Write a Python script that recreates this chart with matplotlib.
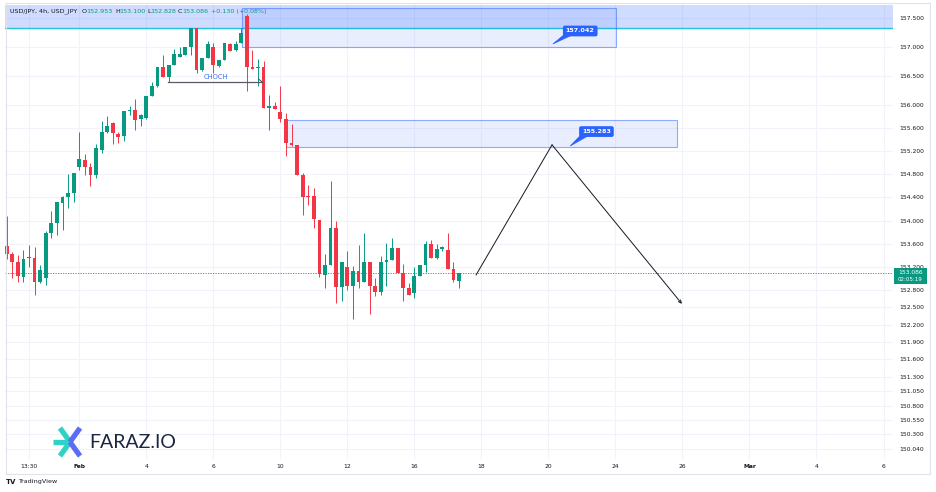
import numpy as np
import matplotlib.pyplot as plt
from matplotlib.patches import Rectangle, Polygon
from matplotlib import transforms
from matplotlib.lines import Line2D

# 4h candles, USD/JPY
opens = [153.56, 153.43, 153.29, 153.03, 153.35, 153.36, 152.93, 153.00, 153.78, 153.95,
         154.31, 154.40, 154.48, 154.93, 155.05, 154.92, 154.79, 155.22, 155.54, 155.69,
         155.50, 155.46, 155.90, 155.91, 155.75, 155.77, 156.16, 156.32, 156.66, 156.49,
         156.69, 156.83, 156.87, 157.00, 157.33, 156.61, 156.81, 157.01, 156.68, 156.78,
         157.06, 156.95, 157.07, 157.54, 156.65, 156.64, 156.66, 155.95, 155.98, 155.88,
         155.76, 155.34, 155.31, 154.79, 154.41, 154.43, 154.01, 153.06, 153.23, 153.87,
         152.85, 153.20, 152.87, 153.13, 152.93, 153.29, 152.87, 152.77, 153.29, 153.32,
         153.53, 153.09, 152.83, 152.75, 153.04, 153.23, 153.60, 153.35, 153.50, 153.49,
         153.17, 152.953]
highs = [154.08, 153.46, 153.40, 153.49, 153.57, 153.54, 153.24, 153.82, 154.17, 154.32,
         154.43, 154.81, 154.83, 155.53, 155.16, 155.00, 155.33, 155.73, 155.81, 155.70,
         155.54, 155.90, 155.98, 156.10, 155.84, 156.16, 156.39, 156.66, 156.87, 156.69,
         156.96, 157.01, 157.00, 157.34, 157.34, 156.81, 157.10, 157.08, 156.78, 157.07,
         157.08, 157.10, 157.34, 157.58, 156.95, 156.79, 156.76, 156.17, 156.05, 156.32,
         155.86, 155.67, 155.31, 154.83, 154.62, 154.56, 154.01, 153.43, 154.69, 154.00,
         153.29, 153.47, 153.21, 153.58, 153.79, 153.29, 153.01, 153.38, 153.62, 153.69,
         153.53, 153.25, 152.92, 153.19, 153.23, 153.65, 153.66, 153.60, 153.56, 153.79,
         153.29, 153.100]
lows = [153.33, 153.00, 152.93, 152.94, 153.20, 152.71, 152.92, 152.89, 153.69, 153.75,
        153.83, 154.21, 154.32, 154.87, 154.79, 154.59, 154.73, 155.17, 155.52, 155.33,
        155.34, 155.37, 155.83, 155.57, 155.64, 155.76, 156.15, 156.31, 156.49, 156.40,
        156.69, 156.83, 156.87, 156.87, 156.56, 156.58, 156.81, 156.55, 156.66, 156.78,
        156.93, 156.93, 157.07, 156.25, 156.62, 156.33, 155.95, 155.56, 155.93, 155.71,
        155.12, 155.29, 154.78, 154.09, 154.27, 153.87, 153.03, 152.83, 153.23, 152.58,
        152.60, 152.80, 152.29, 152.83, 152.93, 152.38, 152.70, 152.71, 152.87, 153.32,
        153.09, 152.61, 152.71, 152.66, 153.04, 153.11, 153.35, 153.33, 153.48, 153.17,
        152.93, 152.828]
closes = [153.42, 153.28, 153.04, 153.34, 153.37, 152.93, 153.14, 153.78, 153.95, 154.32,
          154.40, 154.47, 154.82, 155.07, 154.92, 154.79, 155.26, 155.54, 155.64, 155.51,
          155.45, 155.90, 155.92, 155.74, 155.83, 156.16, 156.32, 156.66, 156.49, 156.69,
          156.89, 156.88, 157.00, 157.34, 156.61, 156.81, 157.05, 156.69, 156.78, 157.07,
          156.93, 157.06, 157.25, 156.65, 156.62, 156.66, 155.95, 155.98, 155.93, 155.76,
          155.34, 155.30, 154.79, 154.40, 154.40, 154.02, 153.08, 153.23, 153.87, 152.85,
          153.29, 152.87, 153.13, 152.93, 153.29, 152.87, 152.76, 153.29, 153.32, 153.53,
          153.09, 152.83, 152.71, 153.04, 153.23, 153.60, 153.35, 153.50, 153.55, 153.17,
          152.97, 153.086]

date_pos = [4, 13, 25, 37, 49, 61, 73, 85, 97, 109, 121, 133, 145, 157]
date_labels = ['13:30', 'Feb', '4', '6', '10', '12', '16', '18', '20', '24', '26', 'Mar', '4', '6']
price_ticks = [157.5, 157.0, 156.5, 156.0, 155.6, 155.2, 154.8, 154.4, 154.0, 153.6, 153.2,
               152.8, 152.5, 152.2, 151.9, 151.6, 151.3, 151.05, 150.8, 150.55, 150.3, 150.04]

last_price = 153.086
band_low, band_high = 157.327, 157.725
zone1 = (42.1, 109.1, 157.01, 157.68)
zone2 = (50.1, 120.0, 155.27, 155.74)
choch_x = (28.9, 45.7)
choch_y = 156.40
path_x = [84.05, 97.65, 120.9]
path_y = [153.06, 155.31, 152.56]

W, H = 936, 492
GREEN = '#089981'
RED = '#f23645'
BLUE = '#2962ff'
DARK = '#131722'

fig = plt.figure(figsize=(W / 100, H / 100), dpi=100)
fig.patch.set_facecolor('white')
ax = fig.add_axes([5 / W, 1 - 459 / H, (893 - 5) / W, (459 - 4) / H])

def fx(x):
    return x / W

def fy(y):
    return 1 - y / H

# candles
for i in range(len(opens)):
    o, h, l, c = opens[i], highs[i], lows[i], closes[i]
    col = GREEN if c >= o else RED
    ax.vlines(i, l, h, color=col, lw=0.7, zorder=3)
    ax.bar(i, max(abs(c - o), 0.018), bottom=min(o, c), width=0.68, color=col,
           lw=0, zorder=4)

ax.set_xlim(-0.3, 158.7)
ax.set_ylim(149.875, 157.747)

# zones
ax.axhspan(band_low, band_high, color=BLUE, alpha=0.22, lw=0, zorder=1)
ax.axhline(band_low, color='#22c4d8', lw=1.0, zorder=2)
for x0, x1, y0, y1 in (zone1, zone2):
    ax.add_patch(Rectangle((x0, y0), x1 - x0, y1 - y0, fc=(0.16, 0.38, 1, 0.1),
                           ec=(0.16, 0.38, 1, 0.5), lw=0.8, zorder=2))

# callouts
def callout(xc, yc, txt, tail):
    ax.add_patch(Polygon(tail, closed=True, fc=BLUE, ec=BLUE, lw=0.5, zorder=6))
    ax.text(xc, yc, txt, ha='center', va='center', color='white', fontsize=4.6,
            fontweight='bold', zorder=7,
            bbox=dict(boxstyle='round,pad=0.45,rounding_size=0.3', fc=BLUE, ec='none'))

callout(102.7, 157.28, '157.042', [(99.6, 157.2), (101.0, 157.2), (97.8, 157.055)])
callout(105.6, 155.54, '155.283', [(102.6, 155.46), (104.0, 155.46), (100.9, 155.29)])

# CHOCH
ax.plot(choch_x, [choch_y, choch_y], color='#555a66', lw=0.9, zorder=5)
ax.plot([choch_x[1] - 0.6, choch_x[1]], [choch_y + 0.05, choch_y], color='#555a66', lw=0.8, zorder=5)
ax.text(37.4, 156.49, 'CHOCH', color='#3d6cf2', fontsize=4.9, ha='center', va='center', zorder=6)

# projected path
ax.plot(path_x[:2], path_y[:2], color=DARK, lw=0.7, zorder=5)
ax.annotate('', xy=(path_x[2], path_y[2]), xytext=(path_x[1], path_y[1]),
            arrowprops=dict(arrowstyle='->', color=DARK, lw=0.7,
                            mutation_scale=5, shrinkA=0, shrinkB=0), zorder=5)

# last price line
ax.axhline(last_price, color=GREEN, lw=0.6, ls=(0, (1.5, 1.5)), zorder=2)

# axes styling
for s in ax.spines.values():
    s.set_visible(False)
ax.set_axisbelow(True)
ax.grid(True, color='#f0f3fa', lw=0.8)
ax.yaxis.tick_right()
ax.set_yticks(price_ticks)
ax.set_yticklabels([f'{v:.3f}' for v in price_ticks])
ax.tick_params(axis='y', length=0, pad=4.5, labelsize=4.3, labelcolor=DARK)
ax.set_xticks(date_pos)
ax.set_xticklabels(date_labels)
ax.tick_params(axis='x', length=0, pad=3.8, labelsize=4.3, labelcolor=DARK)
for lab in ax.get_xticklabels():
    if lab.get_text() in ('Feb', 'Mar'):
        lab.set_fontweight('bold')

# price label on axis
bt = transforms.blended_transform_factory(fig.transFigure, ax.transData)
ax.add_patch(Rectangle((fx(894), 152.896), fx(927) - fx(894), 0.277, transform=bt,
                       fc=GREEN, ec='none', clip_on=False, zorder=8))
ax.text(fx(910.5), 153.10, '153.086', transform=bt, color='white', fontsize=4.3,
        ha='center', va='center', clip_on=False, zorder=9)
ax.text(fx(910.5), 152.98, '02:05:19', transform=bt, color='white', fontsize=4.0,
        ha='center', va='center', clip_on=False, zorder=9)

# header
hdr = [(10, 'USD/JPY, 4h, USD_JPY', DARK), (82, 'O', DARK), (86.5, '152.953', GREEN),
       (115, 'H', DARK), (119, '153.100', GREEN), (147, 'L', DARK), (150.5, '152.828', GREEN),
       (178, 'C', DARK), (182, '153.086', GREEN), (211, '+0.130 (+0.08%)', GREEN)]
for x, t, col in hdr:
    ax.text(fx(x), fy(11.5), t, transform=fig.transFigure, color=col, fontsize=4.6,
            ha='left', va='center', zorder=3.5, clip_on=False)

# FARAZ.IO logo
cx, cy = 70, 442
arms = [((60, 428), '#2ed3c6'), ((60, 456), '#2ed3c6'), ((53, 442), '#2ed3c6'),
        ((80, 428), '#5b6cf5'), ((80, 456), '#5b6cf5')]
for (ex, ey), col in arms:
    fig.add_artist(Line2D([fx(cx), fx(ex)], [fy(cy), fy(ey)], color=col, lw=3.8,
                          solid_capstyle='butt'))
fig.text(fx(89), fy(442), 'FARAZ.IO', family=['Lato', 'DejaVu Sans'], fontsize=14,
         color='#1c2541', ha='left', va='center')

# TradingView footer
fig.text(fx(6), fy(482), 'TV', fontsize=5, fontweight='bold', color=DARK, ha='left', va='center')
fig.text(fx(18), fy(482), 'TradingView', fontsize=4.6, color=DARK, ha='left', va='center')

# outer frame
fc = '#e0e3eb'
fig.add_artist(Line2D([fx(5.5), fx(5.5)], [fy(3), fy(474)], color=fc, lw=0.8))
fig.add_artist(Line2D([fx(930), fx(930)], [fy(3), fy(474)], color=fc, lw=0.8))
fig.add_artist(Line2D([fx(5.5), fx(930)], [fy(474), fy(474)], color=fc, lw=0.8))
fig.add_artist(Line2D([fx(5.5), fx(930)], [fy(3), fy(3)], color=fc, lw=0.8))

fig.savefig('out.png', dpi=100)
